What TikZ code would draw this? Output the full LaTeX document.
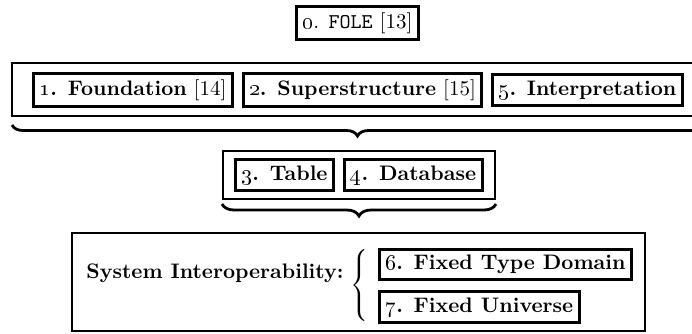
\documentclass[tikz,border=0pt]{standalone}
\usetikzlibrary{decorations.pathreplacing}
\tikzset{
  every node/.style={font=\fontsize{10.5}{12.6}\selectfont},
  inbox/.style={draw, line width=1.4pt, inner sep=3pt},
  outbox/.style={draw, line width=1pt, inner sep=0pt},
  bracedown/.style={decorate, decoration={brace, mirror, amplitude=#1}, line width=1.4pt},
  lbl/.style={inner sep=0pt, font=\fontsize{10.5}{12.6}\selectfont\bfseries}
}
\begin{document}
\begin{tikzpicture}[x=0.5pt,y=-0.5pt]
\useasboundingbox (0,0) rectangle (692,333);
\clip (0,0) rectangle (692,333);
% top
\node[inbox] (f0) at (357.5,23) {\oldstylenums{0}. \texttt{FOLE} [13]};
% first group
\node[outbox, minimum width=345.5pt, minimum height=26.5pt] (g1) at (357.5,89.5) {};
\node[inbox] (f1) at (133,90) {\textbf{\oldstylenums{1}. Foundation} [14]};
\node[inbox] (f2) at (362.5,90) {\textbf{\oldstylenums{2}. Superstructure} [15]};
\node[inbox] (f5) at (587.5,90) {\textbf{\oldstylenums{5}. Interpretation}};
\coordinate (b1l) at (12,125);
\coordinate (b1r) at (703,125);
\draw[bracedown=5.5pt] (b1l) -- (b1r);
% second group
\node[outbox, minimum width=136pt, minimum height=24pt] (g2) at (359,175) {};
\node[inbox] (f3) at (284.5,175) {\textbf{\oldstylenums{3}. Table}};
\node[inbox] (f4) at (413.5,175) {\textbf{\oldstylenums{4}. Database}};
\coordinate (b2l) at (222,204);
\coordinate (b2r) at (496,204);
\draw[bracedown=6pt] (b2l) -- (b2r);
% bottom group
\node[outbox, minimum width=286.5pt, minimum height=49pt] (g3) at (358.5,282) {};
\node[lbl, anchor=east] (si) at (344,273) {System Interoperability:};
\node[inner sep=0pt] (lb) at (361,285) {$\left\{\vcenter{\hbox{\vrule height 39pt width 0pt}}\right.$};
\node[inbox, anchor=west] (f6) at (378,264.5) {\textbf{\oldstylenums{6}. Fixed Type Domain}};
\node[inbox, anchor=west] (f7) at (378,307) {\textbf{\oldstylenums{7}. Fixed Universe}};
\end{tikzpicture}
\end{document}
